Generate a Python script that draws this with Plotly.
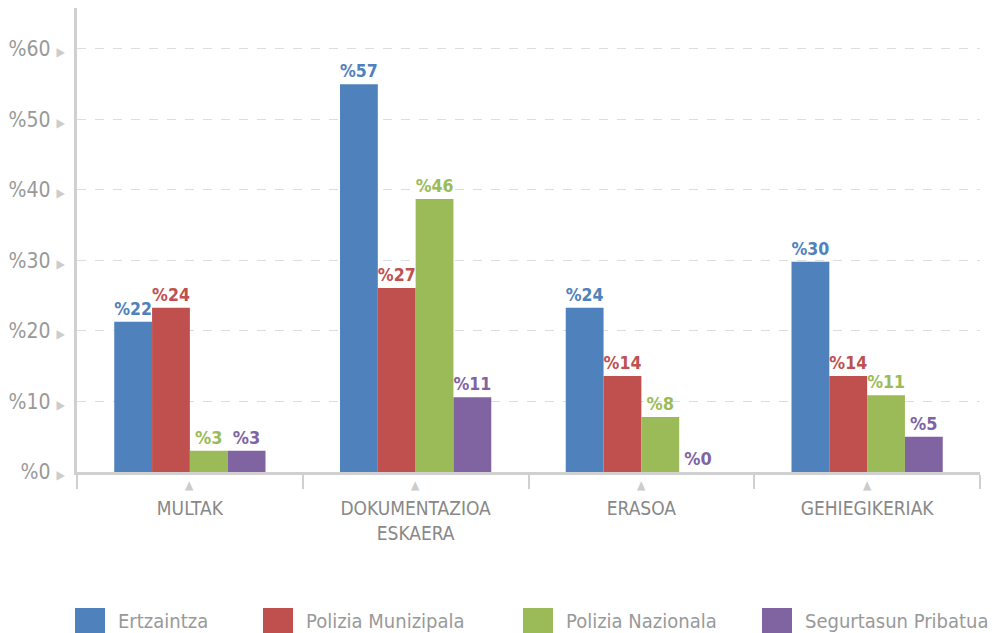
import plotly.graph_objects as go

categories = ["MULTAK", "DOKUMENTAZIOA<br>ESKAERA", "ERASOA", "GEHIEGIKERIAK"]
series_names = ["Ertzaintza", "Polizia Munizipala", "Polizia Nazionala", "Segurtasun Pribatua"]
colors = ["#4f81bd", "#c0504d", "#9bbb59", "#8064a2"]
# bar heights as drawn
ertzaintza = [21.3, 55.0, 23.3, 29.8]
munizipala = [23.3, 26.1, 13.6, 13.6]
nazionala = [3.0, 38.7, 7.8, 10.9]
pribatua = [3.0, 10.6, 0.0, 5.0]
# labels as printed
ertzaintza_lbl = [22, 57, 24, 30]
munizipala_lbl = [24, 27, 14, 14]
nazionala_lbl = [3, 46, 8, 11]
pribatua_lbl = [3, 11, 0, 5]
y_ticks = [0, 10, 20, 30, 40, 50, 60]

FONT = "DejaVu Sans Condensed, Liberation Sans Narrow, DejaVu Sans, sans-serif"

values = [ertzaintza, munizipala, nazionala, pribatua]
labels = [ertzaintza_lbl, munizipala_lbl, nazionala_lbl, pribatua_lbl]

# page body has an 8px margin; figure sized to fit the window
W, H = 995, 625
ML, MR, MT, MB = 69, 23, 0, 161
PW, PH = W - ML - MR, H - MT - MB

fig = go.Figure()
for name, col, v, l in zip(series_names, colors, values, labels):
    fig.add_trace(go.Bar(
        x=categories, y=v, name=name, marker=dict(color=col, line=dict(width=0)),
        text=[f"<b>%{t}</b>" for t in l], textposition="outside", cliponaxis=False,
        textfont=dict(color=col, size=18, family=FONT), showlegend=False,
    ))

# small triangles under each category
for c in categories:
    fig.add_annotation(x=c, xref="x", y=-13 / PH, yref="paper", text="▲", showarrow=False,
                       font=dict(size=12, color="#cccccc"), yanchor="middle")

# custom legend (large swatches as in the reference)
legend_px = [67, 255, 515, 754]
for name, col, px in zip(series_names, colors, legend_px):
    x0 = (px - ML) / PW
    x1 = (px + 30 - ML) / PW
    y_top = -(600 - (MT + PH)) / PH
    y_bot = -(625 - (MT + PH)) / PH
    fig.add_shape(type="rect", xref="paper", yref="paper", x0=x0, x1=x1, y0=y_bot, y1=y_top,
                  fillcolor=col, line=dict(width=0), layer="above")
    fig.add_annotation(x=(px + 41 - ML) / PW, xref="paper", y=-(613 - (MT + PH)) / PH, yref="paper",
                       text=name, showarrow=False, xanchor="left", yanchor="middle",
                       font=dict(size=20, color="#999999", family=FONT))

fig.update_layout(
    width=W, height=H,
    paper_bgcolor="white", plot_bgcolor="white",
    margin=dict(l=ML, r=MR, t=MT, b=MB),
    barmode="group", bargap=0.33, bargroupgap=0,
    font=dict(family=FONT, color="#999999"),
    showlegend=False,
    xaxis=dict(showline=True, linecolor="#d0d0d0", linewidth=3, automargin=False,
               ticks="outside", tickson="boundaries", ticklen=14, tickcolor="#d0d0d0", tickwidth=2,
               tickfont=dict(size=19, color="#888888", family=FONT), showgrid=False,
               ticklabelstandoff=17),
    yaxis=dict(range=[0, 65.8], showline=True, linecolor="#d0d0d0", linewidth=3, automargin=False,
               tickvals=y_ticks,
               ticktext=[f"%{t} <span style='color:#cccccc;font-size:12px'>▶</span>" for t in y_ticks],
               tickfont=dict(size=21, color="#999999", family=FONT),
               showgrid=True, gridcolor="#dddddd", griddash="dash", gridwidth=1,
               zeroline=False, ticks="", ticklabelstandoff=5),
)

fig.write_html("out.html")
